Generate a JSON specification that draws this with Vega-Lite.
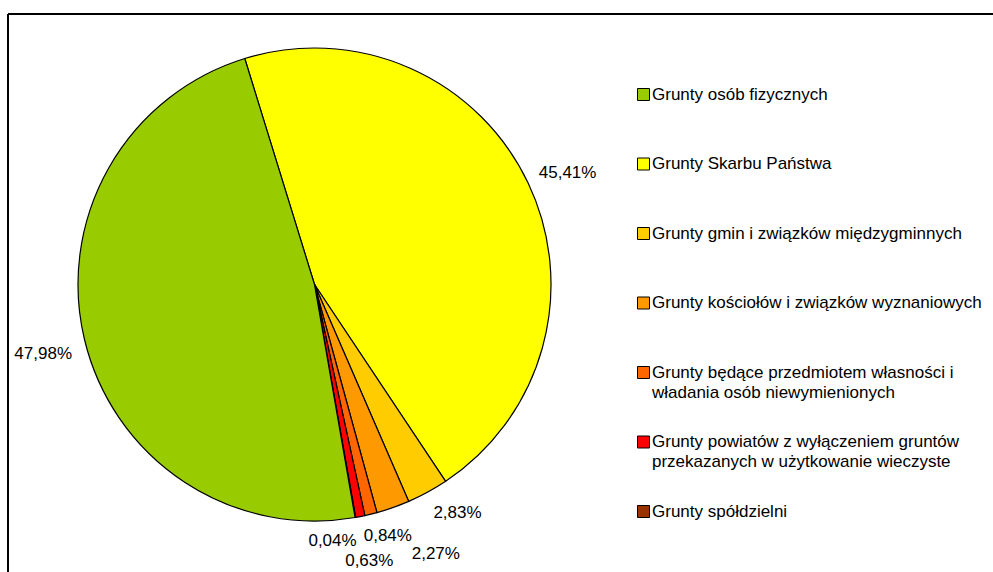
{
  "$schema": "https://vega.github.io/schema/vega-lite/v6.json",
  "width": 613,
  "height": 541,
  "autosize": {"type": "none"},
  "padding": {"left": 8, "top": 14, "right": 372, "bottom": 17},
  "background": "white",
  "config": {
    "view": {"stroke": null},
    "font": "Liberation Sans",
    "locale": {"number": {"decimal": ",", "thousands": " ", "grouping": [3], "currency": ["", " zł"]}}
  },
  "data": {
    "values": [
      {"nr": 1, "kategoria": "Grunty Skarbu Państwa", "udzial": 0.4541},
      {"nr": 2, "kategoria": "Grunty gmin i związków międzygminnych", "udzial": 0.0283},
      {"nr": 3, "kategoria": "Grunty kościołów i związków wyznaniowych", "udzial": 0.0227},
      {"nr": 4, "kategoria": "Grunty będące przedmiotem własności i władania osób niewymienionych", "udzial": 0.0084},
      {"nr": 5, "kategoria": "Grunty powiatów z wyłączeniem gruntów przekazanych w użytkowanie wieczyste", "udzial": 0.0063},
      {"nr": 6, "kategoria": "Grunty spółdzielni", "udzial": 0.0004},
      {"nr": 7, "kategoria": "Grunty osób fizycznych", "udzial": 0.4798}
    ]
  },
  "layer": [
    {
      "data": {"values": [{}]},
      "mark": {"type": "rule", "color": "black", "strokeWidth": 2},
      "encoding": {"x": {"value": 0}, "x2": {"value": 990}, "y": {"value": 0}}
    },
    {
      "data": {"values": [{}]},
      "mark": {"type": "rule", "color": "black", "strokeWidth": 2},
      "encoding": {"x": {"value": 0}, "y": {"value": 0}, "y2": {"value": 570}}
    },
    {
      "mark": {"type": "arc", "outerRadius": 236.5, "stroke": "black", "strokeWidth": 1.2},
      "encoding": {
        "theta": {"field": "udzial", "type": "quantitative", "stack": true, "scale": {"range": [-0.2993, 5.9839]}},
        "order": {"field": "nr", "type": "quantitative"},
        "color": {
          "field": "kategoria",
          "type": "nominal",
          "scale": {
            "domain": [
              "Grunty osób fizycznych",
              "Grunty Skarbu Państwa",
              "Grunty gmin i związków międzygminnych",
              "Grunty kościołów i związków wyznaniowych",
              "Grunty będące przedmiotem własności i władania osób niewymienionych",
              "Grunty powiatów z wyłączeniem gruntów przekazanych w użytkowanie wieczyste",
              "Grunty spółdzielni"
            ],
            "range": ["#99CC00", "#FFFF00", "#FFCC00", "#FF9900", "#FF6600", "#FF0000", "#993300"]
          },
          "legend": {
            "orient": "none",
            "legendX": 627,
            "legendY": 72,
            "title": null,
            "padding": 0,
            "symbolType": "square",
            "symbolSize": 144,
            "symbolStrokeColor": "black",
            "symbolStrokeWidth": 1,
            "symbolOpacity": 1,
            "labelFont": "Liberation Sans",
            "labelFontSize": 17,
            "labelColor": "black",
            "labelLimit": 400,
            "labelOffset": 0,
            "labelBaseline": "middle",
            "gridAlign": "all",
            "rowPadding": 31.5,
            "labelExpr": "datum.label == 'Grunty będące przedmiotem własności i władania osób niewymienionych' ? ['Grunty będące przedmiotem własności i', 'władania osób niewymienionych'] : datum.label == 'Grunty powiatów z wyłączeniem gruntów przekazanych w użytkowanie wieczyste' ? ['Grunty powiatów z wyłączeniem gruntów', 'przekazanych w użytkowanie wieczyste'] : datum.label",
            "encode": {"labels": {"update": {"lineHeight": {"value": 20}}}}
          }
        }
      }
    },
    {
      "mark": {
        "type": "text",
        "radius": 278,
        "fontSize": 17,
        "font": "Liberation Sans",
        "color": "black",
        "align": "center",
        "baseline": "middle",
        "dx": {"expr": "datum.nr == 1 ? 2 : datum.nr == 7 ? -1 : datum.nr == 2 ? 10 : datum.nr == 3 ? 29 : datum.nr == 4 ? 7 : datum.nr == 5 ? 1 : -30"},
        "dy": {"expr": "datum.nr == 1 ? 8 : datum.nr == 7 ? 5 : datum.nr == 2 ? -16 : datum.nr == 3 ? 7 : datum.nr == 4 ? -18 : datum.nr == 5 ? 4 : -17"}
      },
      "encoding": {
        "theta": {"field": "udzial", "type": "quantitative", "stack": true},
        "order": {"field": "nr", "type": "quantitative"},
        "detail": {"field": "kategoria", "type": "nominal"},
        "text": {"field": "udzial", "type": "quantitative", "format": ".2%"}
      }
    }
  ]
}
